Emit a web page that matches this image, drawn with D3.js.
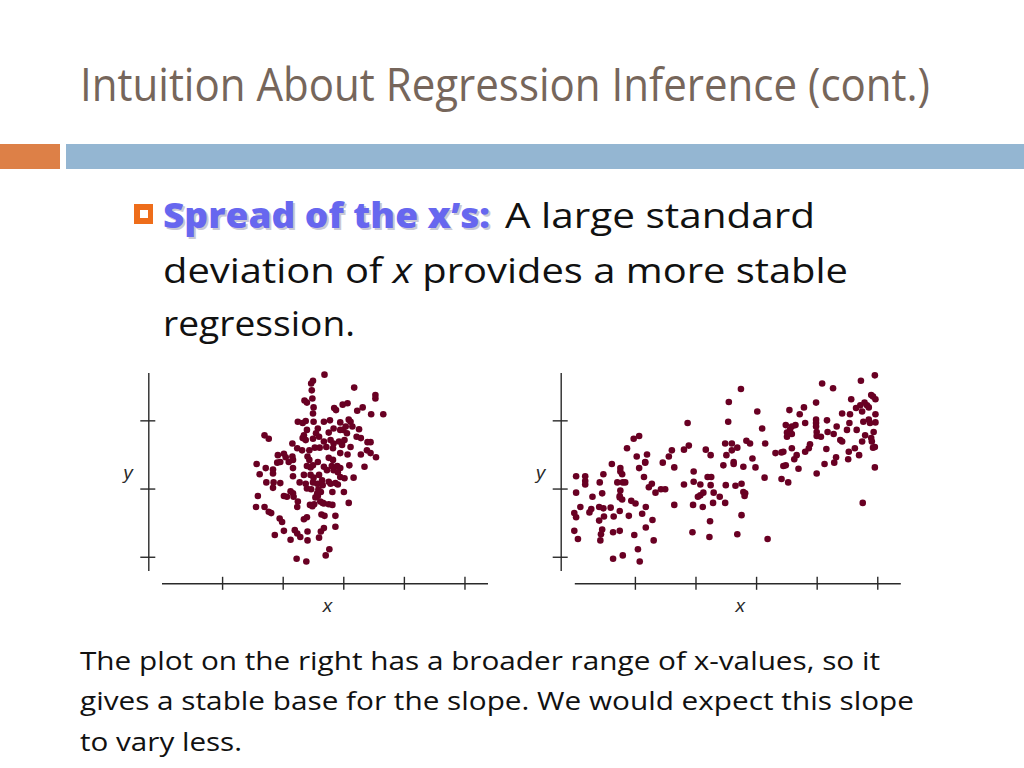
<!DOCTYPE html>
<html>
<head>
<meta charset="utf-8">
<script src="https://cdn.jsdelivr.net/npm/d3@7"></script>
<style>
  body { margin: 0; background: #fff; }
  svg { display: block; }
</style>
</head>
<body>
<div class="slide"></div>
<script>
// Tick positions shared by both plots (ticks carry no labels)
const xTicks = [1, 2, 3, 4, 5];
const yTicks = [1, 2, 3];

// Left plot: small spread of x
const leftX = [2.69, 2.50, 2.47, 2.48, 3.18, 3.53, 3.53, 2.36, 2.40, 2.49,
  2.85, 2.88, 2.99, 3.07, 2.51, 2.50, 3.23, 3.32, 3.46, 3.66,
  2.25, 2.33, 2.38, 2.51, 2.68, 2.78, 2.95, 3.09, 3.12, 3.04,
  3.00, 3.15, 3.26, 2.40, 2.58, 2.55, 2.76, 2.84, 2.95, 3.06,
  3.22, 3.29, 3.40, 3.45, 1.70, 1.77, 2.16, 2.33, 2.38, 2.35,
  2.50, 2.60, 2.68, 2.79, 2.84, 2.93, 2.98, 3.02, 3.12, 2.24,
  2.32, 2.44, 2.53, 2.61, 2.72, 2.83, 2.95, 3.07, 3.29, 3.39,
  3.45, 3.54, 1.92, 2.02, 2.05, 2.16, 2.17, 2.41, 2.44, 2.58,
  2.76, 2.83, 2.81, 2.90, 2.95, 3.10, 3.35, 1.57, 1.72, 1.84,
  1.91, 1.96, 2.10, 2.17, 2.40, 2.46, 2.50, 2.68, 2.73, 2.84,
  2.91, 1.62, 1.84, 2.17, 2.35, 2.46, 2.51, 2.60, 2.65, 2.76,
  2.95, 3.02, 3.17, 1.73, 1.85, 1.96, 2.28, 2.38, 2.50, 2.57,
  2.66, 2.79, 2.87, 2.91, 1.84, 2.13, 2.40, 2.47, 2.59, 2.57,
  2.63, 2.82, 3.01, 1.59, 2.02, 2.07, 2.17, 2.18, 2.54, 2.58,
  2.62, 2.68, 1.56, 1.70, 1.77, 1.81, 2.25, 2.24, 2.45, 2.49,
  2.52, 2.66, 2.76, 2.82, 3.09, 1.95, 1.99, 2.35, 2.40, 2.64,
  2.69, 2.87, 1.87, 2.02, 2.20, 2.24, 2.29, 2.41, 2.63, 2.68,
  2.87, 2.13, 2.41, 2.60, 2.77, 2.71, 2.23, 2.39];
const leftY = [3.67, 3.58, 3.54, 3.44, 3.48, 3.37, 3.32, 3.29, 3.26, 3.32,
  3.18, 3.15, 3.23, 3.25, 3.19, 3.10, 3.14, 3.19, 3.09, 3.09,
  2.98, 2.96, 2.99, 2.98, 2.98, 3.00, 2.97, 3.01, 2.98, 2.91,
  2.86, 2.91, 2.87, 2.86, 2.88, 2.81, 2.82, 2.88, 2.86, 2.81,
  2.76, 2.74, 2.68, 2.68, 2.78, 2.73, 2.66, 2.74, 2.71, 2.78,
  2.73, 2.76, 2.69, 2.71, 2.66, 2.69, 2.64, 2.71, 2.61, 2.59,
  2.56, 2.56, 2.60, 2.60, 2.61, 2.59, 2.52, 2.50, 2.50, 2.56,
  2.52, 2.46, 2.49, 2.51, 2.46, 2.47, 2.42, 2.47, 2.42, 2.39,
  2.45, 2.42, 2.33, 2.33, 2.30, 2.34, 2.32, 2.36, 2.30, 2.28,
  2.38, 2.39, 2.39, 2.30, 2.33, 2.31, 2.34, 2.32, 2.27, 2.27,
  2.24, 2.21, 2.22, 2.18, 2.20, 2.20, 2.16, 2.20, 2.12, 2.10,
  2.17, 2.15, 2.16, 2.09, 2.09, 2.08, 2.09, 2.07, 2.09, 2.07,
  2.05, 2.07, 2.08, 2.06, 2.01, 1.96, 2.00, 1.99, 1.99, 1.93,
  1.95, 1.95, 1.95, 1.89, 1.89, 1.88, 1.93, 1.88, 1.87, 1.89,
  1.81, 1.78, 1.73, 1.73, 1.66, 1.64, 1.81, 1.73, 1.76, 1.74,
  1.77, 1.79, 1.77, 1.76, 1.79, 1.56, 1.51, 1.55, 1.58, 1.62,
  1.60, 1.60, 1.32, 1.38, 1.39, 1.34, 1.29, 1.37, 1.37, 1.42,
  1.44, 1.25, 1.24, 1.28, 1.11, 1.02, 0.97, 0.93];

// Right plot: large spread of x
const rightX = [4.96, 4.73, 4.09, 4.27, 2.75, 4.90, 4.93, 4.97, 4.57, 2.55,
  3.99, 4.79, 4.83, 4.86, 4.72, 3.79, 3.55, 3.02, 4.65, 4.55,
  4.97, 3.72, 4.75, 4.42, 2.54, 1.87, 3.81, 3.99, 3.99, 3.99,
  4.17, 4.86, 4.97, 4.88, 4.77, 3.49, 3.59, 3.65, 3.56, 3.51,
  3.10, 4.33, 4.54, 4.00, 4.18, 4.28, 4.66, 4.50, 4.94, 4.80,
  3.51, 3.59, 4.00, 4.07, 4.39, 4.42, 4.90, 4.91, 4.75, 0.98,
  1.07, 2.84, 2.90, 3.15, 2.49, 2.60, 2.69, 1.89, 1.81, 0.87,
  2.17, 2.25, 1.61, 1.56, 1.46, 1.20, 1.03, 1.17, 1.65, 2.60,
  2.51, 2.46, 2.63, 2.63, 2.79, 2.94, 2.99, 3.14, 3.89, 3.81,
  3.87, 3.42, 3.32, 3.45, 3.59, 3.67, 3.63, 3.45, 3.49, 3.70,
  4.16, 4.13, 4.29, 4.32, 4.53, 4.63, 4.70, 4.52, 4.96, 4.93,
  4.96, 4.00, 0.62, 0.76, 0.79, 0.76, 0.80, 0.71, 0.84, 1.07,
  1.17, 1.15, 1.23, 1.28, 1.34, 1.43, 1.50, 0.48, 0.42, 0.03,
  0.18, 0.18, 0.18, 0.03, 0.30, 0.46, 0.10, 0.00, 0.03, 0.25,
  0.28, 0.41, 0.48, 0.49, 0.41, 0.46, 0.44, 0.43, 0.60, 0.65,
  0.75, 0.76, 0.75, 0.79, 0.75, 0.90, 0.94, 1.01, 0.99, 1.18,
  1.12, 1.29, 1.18, 1.31, 0.64, 0.75, 0.64, 0.80, 1.05, 1.08,
  0.00, 0.06, 1.65, 1.81, 1.97, 1.97, 2.08, 2.20, 2.26, 2.25,
  2.13, 2.08, 2.04, 1.96, 2.12, 2.30, 2.29, 2.40, 2.49, 2.50,
  2.66, 2.76, 2.79, 2.82, 2.81, 2.76, 1.95, 2.24, 2.23, 2.69,
  3.19, 4.76, 3.42, 3.53];
const rightY = [3.66, 3.58, 3.54, 3.47, 3.46, 3.37, 3.35, 3.31, 3.31, 3.27,
  3.26, 3.26, 3.22, 3.19, 3.22, 3.19, 3.15, 3.13, 3.18, 3.09,
  3.09, 3.09, 3.13, 3.10, 2.98, 2.96, 2.96, 3.01, 2.96, 2.91,
  3.00, 3.01, 2.97, 2.96, 2.98, 2.93, 2.91, 2.93, 2.86, 2.82,
  2.88, 2.91, 2.96, 2.83, 2.83, 2.80, 2.86, 2.86, 2.83, 2.78,
  2.76, 2.80, 2.77, 2.76, 2.71, 2.69, 2.74, 2.69, 2.69, 2.73,
  2.77, 2.70, 2.66, 2.66, 2.66, 2.66, 2.60, 2.63, 2.57, 2.59,
  2.57, 2.49, 2.56, 2.47, 2.38, 2.50, 2.47, 2.39, 2.31, 2.56,
  2.49, 2.34, 2.39, 2.36, 2.32, 2.44, 2.31, 2.16, 2.65, 2.54,
  2.59, 2.53, 2.52, 2.54, 2.59, 2.49, 2.43, 2.33, 2.34, 2.29,
  2.58, 2.36, 2.38, 2.46, 2.54, 2.59, 2.49, 2.43, 2.61, 2.60,
  2.31, 2.22, 2.36, 2.30, 2.21, 2.25, 2.09, 2.09, 2.09, 2.30,
  2.38, 2.17, 2.02, 2.07, 1.94, 1.99, 1.99, 2.21, 2.09, 2.18,
  2.18, 2.11, 2.06, 1.94, 1.88, 1.93, 1.73, 1.64, 1.58, 1.65,
  1.70, 1.73, 1.71, 1.59, 1.53, 1.40, 1.33, 1.24, 1.72, 1.59,
  1.89, 1.97, 1.87, 1.84, 1.67, 1.60, 1.82, 1.78, 1.32, 1.73,
  1.63, 1.54, 1.43, 1.24, 1.36, 1.38, 0.97, 1.02, 1.11, 0.93,
  1.38, 1.26, 1.76, 2.06, 2.25, 2.10, 2.06, 2.17, 2.17, 2.05,
  1.94, 1.90, 1.88, 1.76, 1.73, 1.94, 1.79, 1.88, 1.79, 2.05,
  2.04, 2.07, 1.95, 1.93, 1.89, 1.61, 1.36, 1.52, 1.29, 1.33,
  1.26, 1.79, 2.14, 2.09];

const width = 1024, height = 768;
const dotColor = "#690023";
const inkColor = "#2a2a2a";
const textFont = "'Open Sans', 'DejaVu Sans', sans-serif";

const svg = d3.select(".slide")
  .append("svg")
  .attr("width", width)
  .attr("height", height);

// Title
svg.append("text")
  .attr("x", 80)
  .attr("y", 101)
  .attr("textLength", 850)
  .attr("lengthAdjust", "spacingAndGlyphs")
  .style("font-family", textFont)
  .style("font-size", "46px")
  .style("fill", "#76665b")
  .text("Intuition About Regression Inference (cont.)");

// Header bars
svg.append("rect").attr("x", 0).attr("y", 144).attr("width", 60).attr("height", 25).style("fill", "#dd8047");
svg.append("rect").attr("x", 66).attr("y", 144).attr("width", 958).attr("height", 25).style("fill", "#94b6d2");

// Bullet marker
svg.append("rect").attr("x", 134).attr("y", 204).attr("width", 19).attr("height", 20).style("fill", "#ee6d1a");
svg.append("rect").attr("x", 140).attr("y", 210).attr("width", 8).attr("height", 8).style("fill", "#fff");

// Bullet heading with light shadow
svg.append("text")
  .attr("x", 165).attr("y", 230)
  .attr("textLength", 327).attr("lengthAdjust", "spacingAndGlyphs")
  .style("font-family", textFont).style("font-weight", 800)
  .style("font-size", "35px").style("fill", "#c9c9d6")
  .text("Spread of the x’s:");
svg.append("text")
  .attr("x", 163).attr("y", 228)
  .attr("textLength", 327).attr("lengthAdjust", "spacingAndGlyphs")
  .style("font-family", textFont).style("font-weight", 800)
  .style("font-size", "35px").style("fill", "#6767ef")
  .text("Spread of the x’s:");

const bodyLines = [
  { x: 505, y: 228, len: 310, parts: [["A large standard", "normal"]] },
  { x: 163, y: 283, len: 685, parts: [["deviation of ", "normal"], ["x", "italic"], [" provides a more stable", "normal"]] },
  { x: 163, y: 336, len: 192, parts: [["regression.", "normal"]] }
];
bodyLines.forEach(function (line) {
  const t = svg.append("text")
    .attr("x", line.x).attr("y", line.y)
    .attr("textLength", line.len).attr("lengthAdjust", "spacingAndGlyphs")
    .style("font-family", textFont).style("font-size", "35px").style("fill", "#111");
  line.parts.forEach(function (p) {
    t.append("tspan").style("font-style", p[1]).text(p[0]);
  });
});

// Caption under the plots
const captionLines = [
  { y: 670, len: 800, text: "The plot on the right has a broader range of x-values, so it" },
  { y: 710, len: 834, text: "gives a stable base for the slope. We would expect this slope" },
  { y: 751, len: 162, text: "to vary less." }
];
captionLines.forEach(function (c) {
  svg.append("text")
    .attr("x", 80).attr("y", c.y)
    .attr("textLength", c.len).attr("lengthAdjust", "spacingAndGlyphs")
    .style("font-family", textFont).style("font-size", "26px").style("fill", "#111")
    .text(c.text);
});

// Scatter plots
const panels = [
  { xs: leftX, ys: leftY, x0: 161.5, yAxisX: 148.3 },
  { xs: rightX, ys: rightY, x0: 574.3, yAxisX: 560.7 }
];

panels.forEach(function (panel) {
  const x = d3.scaleLinear().domain([0, 5.38]).range([panel.x0, panel.x0 + 326]);
  const y = d3.scaleLinear().domain([0.8, 3.7]).range([570.4, 372.6]);
  const g = svg.append("g");

  const xAxis = g.append("g")
    .attr("transform", `translate(0, 583.3)`)
    .call(d3.axisBottom(x).tickValues(xTicks).tickSizeOuter(0).tickFormat(""));
  xAxis.selectAll(".tick line").attr("y1", -6.5).attr("y2", 6.5);

  const yAxis = g.append("g")
    .attr("transform", `translate(${panel.yAxisX}, 0)`)
    .call(d3.axisLeft(y).tickValues(yTicks).tickSizeOuter(0).tickFormat(""));
  yAxis.selectAll(".tick line").attr("x1", -8).attr("x2", 7);

  g.selectAll(".domain, .tick line")
    .style("stroke", inkColor)
    .style("stroke-width", 1.4);

  g.append("text")
    .attr("x", panel.yAxisX - 25).attr("y", 479)
    .style("font-family", "'Liberation Sans', Arial, sans-serif")
    .style("font-style", "italic").style("font-size", "19px").style("fill", inkColor)
    .text("y");
  g.append("text")
    .attr("x", x(2.74)).attr("y", 612)
    .attr("text-anchor", "middle")
    .style("font-family", "'Liberation Sans', Arial, sans-serif")
    .style("font-style", "italic").style("font-size", "19px").style("fill", inkColor)
    .text("x");

  const points = panel.xs.map(function (v, i) { return { x: v, y: panel.ys[i] }; });
  g.selectAll("circle")
    .data(points)
    .join("circle")
    .attr("cx", function (d) { return x(d.x); })
    .attr("cy", function (d) { return y(d.y); })
    .attr("r", 3.3)
    .style("fill", dotColor);
});
</script>
</body>
</html>
